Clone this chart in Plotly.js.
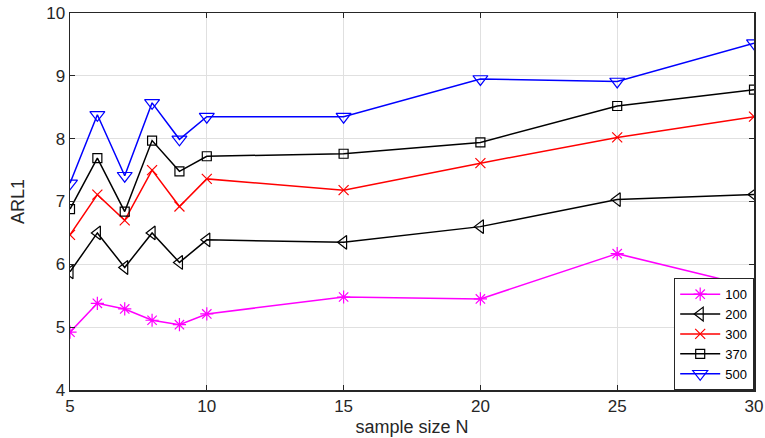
<!DOCTYPE html>
<html>
<head>
<meta charset="utf-8">
<script src="https://cdn.plot.ly/plotly-3.0.1.min.js"></script>
<style>html,body{margin:0;padding:0;background:#fff;}#chart{width:765px;height:438px;}</style>
</head>
<body>
<div id="chart"></div>
<script>
const sampleSize = [5, 6, 7, 8, 9, 10, 15, 20, 25, 30];
const arl100 = [4.92, 5.38, 5.29, 5.11, 5.04, 5.21, 5.48, 5.45, 6.17, 5.64];
const arl200 = [5.88, 6.50, 5.95, 6.50, 6.03, 6.39, 6.35, 6.60, 7.03, 7.11];
const arl300 = [6.47, 7.11, 6.70, 7.50, 6.92, 7.36, 7.18, 7.61, 8.02, 8.35];
const arl370 = [6.88, 7.69, 6.84, 7.97, 7.48, 7.72, 7.76, 7.94, 8.52, 8.78];
const arl500 = [7.29, 8.38, 7.41, 8.57, 7.99, 8.35, 8.35, 8.95, 8.91, 9.52];
const seriesNames = ['100', '200', '300', '370', '500'];
const xTicks = [5, 10, 15, 20, 25, 30];
const yTicks = [4, 5, 6, 7, 8, 9, 10];

const styles = [
  {color: '#ff00ff', symbol: 'asterisk-open', size: 11},
  {color: '#000000', symbol: 'triangle-left-open', size: 12},
  {color: '#ff0000', symbol: 'x-thin-open', size: 10},
  {color: '#000000', symbol: 'square-open', size: 9},
  {color: '#0000ff', symbol: 'triangle-down-open', size: 13}
];
const data = [arl100, arl200, arl300, arl370, arl500].map((ys, i) => ({
  x: sampleSize, y: ys, name: seriesNames[i], type: 'scatter', mode: 'lines+markers',
  line: {color: styles[i].color, width: 1.5},
  marker: {symbol: styles[i].symbol, size: styles[i].size, color: styles[i].color,
           line: {color: styles[i].color, width: 1.2}}
}));

const tickFont = {family: 'Liberation Sans, Arial, sans-serif', size: 17, color: '#262626'};
const titleFont = {family: 'Liberation Sans, Arial, sans-serif', size: 18, color: '#262626'};
const layout = {
  width: 765, height: 438,
  margin: {l: 70, r: 11, t: 13, b: 48},
  paper_bgcolor: '#fff', plot_bgcolor: '#fff',
  showlegend: true,
  xaxis: {
    range: [5, 30], tickvals: xTicks, ticktext: xTicks.map(String),
    showgrid: true, gridcolor: '#e0e0e0', gridwidth: 1,
    showline: true, linecolor: '#262626', linewidth: 1.5, mirror: 'ticks',
    ticks: 'inside', ticklen: 5, tickcolor: '#262626',
    tickfont: tickFont, zeroline: false,
    title: {text: 'sample size N', font: titleFont, standoff: 5}
  },
  yaxis: {
    range: [4, 10], tickvals: yTicks, ticktext: yTicks.map(String),
    showgrid: true, gridcolor: '#e0e0e0', gridwidth: 1,
    showline: true, linecolor: '#262626', linewidth: 1.5, mirror: 'ticks',
    ticks: 'inside', ticklen: 5, tickcolor: '#262626',
    tickfont: tickFont, zeroline: false,
    title: {text: 'ARL1', font: titleFont, standoff: 17}
  },
  legend: {
    x: 1, xanchor: 'right', y: 0, yanchor: 'bottom',
    bgcolor: '#fff', bordercolor: '#262626', borderwidth: 1.2,
    font: {family: 'Liberation Sans, Arial, sans-serif', size: 13, color: '#000'},
    tracegroupgap: 0, itemwidth: 40
  }
};
Plotly.newPlot('chart', data, layout, {displayModeBar: false, staticPlot: true});
</script>
</body>
</html>
